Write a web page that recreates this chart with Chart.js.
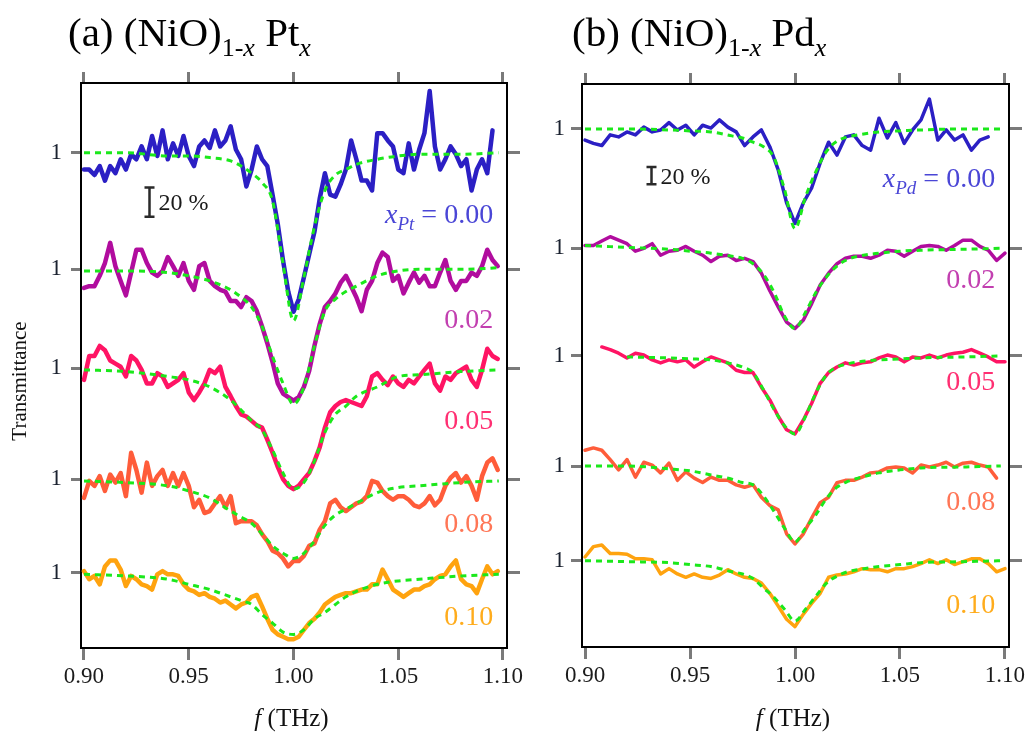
<!DOCTYPE html>
<html>
<head>
<meta charset="utf-8">
<script src="https://cdn.jsdelivr.net/npm/chart.js@4.4.1/dist/chart.umd.min.js"></script>
<style>
  html, body { margin: 0; padding: 0; background: #fff; }
  #wrap { position: relative; width: 1031px; height: 732px; overflow: hidden; }
  canvas { position: absolute; top: 0; }
  #cvA { left: 0; }
  #cvB { left: 530px; }
  .ttl { position: absolute; top: 12px; font: 41px 'Liberation Serif', serif; color: #000; white-space: nowrap; line-height: 1; }
  .ttl .sb { font-size: 26px; position: relative; top: 10px; }
</style>
</head>
<body>
<div id="wrap">
  <canvas id="cvA" width="530" height="732" role="img" aria-label="THz transmittance of (NiO)1-x Ptx for x = 0.00 to 0.10 with fits"></canvas>
  <canvas id="cvB" width="501" height="732" role="img" aria-label="THz transmittance of (NiO)1-x Pdx for x = 0.00 to 0.10 with fits"></canvas>
  <div class="ttl" style="left:68px">(a) (NiO)<span class="sb">1-<i>x</i></span> Pt<span class="sb"><i>x</i></span></div>
  <div class="ttl" style="left:572px">(b) (NiO)<span class="sb">1-<i>x</i></span> Pd<span class="sb"><i>x</i></span></div>
</div>
<script>
// frequency grids (THz)
const freqA = [0.9, 0.9025, 0.905, 0.9075, 0.91, 0.9125, 0.915, 0.9175, 0.92, 0.9225,
  0.925, 0.9275, 0.93, 0.9325, 0.935, 0.9375, 0.94, 0.9425, 0.945, 0.9475,
  0.95, 0.9525, 0.955, 0.9575, 0.96, 0.9625, 0.965, 0.9675, 0.97, 0.9725,
  0.975, 0.9775, 0.98, 0.9825, 0.985, 0.9875, 0.99, 0.9925, 0.995, 0.9975,
  1.0, 1.0025, 1.005, 1.0075, 1.01, 1.0125, 1.015, 1.0175, 1.02, 1.0225,
  1.025, 1.0275, 1.03, 1.0325, 1.035, 1.0375, 1.04, 1.0425, 1.045, 1.0475,
  1.05, 1.0525, 1.055, 1.0575, 1.06, 1.0625, 1.065, 1.0675, 1.07, 1.0725,
  1.075, 1.0775, 1.08, 1.0825, 1.085, 1.0875, 1.09, 1.0925, 1.095, 1.0975];
const freqB = [0.9, 0.904, 0.908, 0.912, 0.916, 0.92, 0.924, 0.928, 0.932, 0.936,
  0.94, 0.944, 0.948, 0.952, 0.956, 0.96, 0.964, 0.968, 0.972, 0.976,
  0.98, 0.984, 0.988, 0.992, 0.996, 1.0, 1.004, 1.008, 1.012, 1.016,
  1.02, 1.024, 1.028, 1.032, 1.036, 1.04, 1.044, 1.048, 1.052, 1.056,
  1.06, 1.064, 1.068, 1.072, 1.076, 1.08, 1.084, 1.088, 1.092, 1.096, 1.1];
const fitFreq = [0.9, 0.92, 0.94, 0.95, 0.96, 0.97, 0.975, 0.98, 0.985, 0.99, 0.995, 1.0,
  1.005, 1.01, 1.015, 1.02, 1.025, 1.03, 1.04, 1.05, 1.06, 1.08, 1.098];
const xTicks = [0.9, 0.95, 1.0, 1.05, 1.1];
const compositions = ['0.00', '0.02', '0.05', '0.08', '0.10'];

// (NiO)1-x Ptx transmittance
const pt000 = [0.90, 0.90, 0.87, 0.92, 0.84, 0.92, 0.88, 0.96, 0.90, 0.99,
  0.96, 1.04, 0.96, 1.11, 0.98, 1.15, 0.96, 1.06, 0.98, 1.11,
  0.98, 0.92, 1.04, 1.08, 1.03, 1.15, 1.04, 1.08, 1.18, 1.02,
  0.96, 0.81, 0.90, 1.04, 0.96, 0.92, 0.77, 0.64, 0.51, 0.42,
  0.37, 0.40, 0.46, 0.53, 0.61, 0.75, 0.88, 0.77, 0.76, 0.82,
  0.90, 1.08, 0.96, 0.84, 0.84, 0.79, 1.13, 1.13, 1.08, 1.04,
  0.90, 0.88, 1.06, 0.90, 1.02, 1.13, 1.47, 1.04, 0.90, 0.96,
  1.04, 0.99, 0.92, 0.96, 0.79, 0.90, 0.96, 0.88, 1.15, null];
const pt002 = [0.89, 0.90, 0.90, 0.96, 1.04, 1.18, 1.02, 0.93, 0.85, 0.98,
  1.13, 1.13, 1.04, 0.98, 0.96, 0.99, 1.08, 1.02, 0.96, 1.04,
  0.93, 0.88, 1.02, 1.04, 0.93, 0.90, 0.88, 0.87, 0.82, 0.82,
  0.79, 0.84, 0.82, 0.77, 0.70, 0.63, 0.56, 0.49, 0.46, 0.45,
  0.44, 0.45, 0.48, 0.53, 0.62, 0.71, 0.79, 0.82, 0.86, 0.92,
  0.96, 0.90, 0.84, 0.77, 0.88, 0.93, 1.04, 1.11, 1.08, 0.93,
  0.96, 0.86, 0.92, 0.98, 0.92, 0.96, 0.90, 0.90, 0.98, 1.06,
  0.93, 0.88, 0.93, 0.93, 0.98, 0.96, 1.02, 1.13, 1.06, 1.02];
const pt005 = [0.93, 1.08, 1.08, 1.15, 1.12, 1.05, 1.03, 1.01, 0.95, 1.08,
  1.05, 0.99, 0.91, 0.91, 0.97, 0.95, 0.89, 0.91, 0.93, 0.97,
  0.86, 0.82, 0.86, 0.91, 0.99, 0.97, 1.01, 0.89, 0.84, 0.79,
  0.75, 0.74, 0.72, 0.70, 0.69, 0.64, 0.59, 0.54, 0.50, 0.48,
  0.47, 0.48, 0.50, 0.52, 0.56, 0.61, 0.69, 0.76, 0.79, 0.81,
  0.82, 0.81, 0.80, 0.79, 0.84, 0.95, 0.97, 0.93, 0.90, 0.95,
  0.91, 0.89, 0.93, 0.91, 0.95, 0.99, 1.03, 0.91, 0.87, 0.95,
  0.93, 0.97, 0.99, 1.01, 0.93, 0.89, 0.99, 1.13, 1.08, 1.06];
const pt008 = [0.89, 0.99, 0.96, 1.02, 0.93, 1.03, 0.98, 1.04, 0.90, 1.18,
  1.06, 0.92, 1.11, 0.96, 1.02, 1.06, 0.96, 1.04, 0.96, 1.04,
  0.96, 0.84, 0.88, 0.81, 0.82, 0.86, 0.90, 0.84, 0.90, 0.76,
  0.77, 0.77, 0.77, 0.75, 0.71, 0.68, 0.64, 0.63, 0.61, 0.58,
  0.60, 0.60, 0.62, 0.66, 0.67, 0.73, 0.77, 0.86, 0.88, 0.84,
  0.82, 0.84, 0.86, 0.87, 0.90, 0.99, 0.98, 0.93, 0.90, 0.88,
  0.90, 0.90, 0.88, 0.85, 0.84, 0.86, 0.90, 0.85, 0.88, 0.96,
  1.01, 1.04, 0.98, 1.02, 0.96, 0.88, 1.02, 1.11, 1.14, 1.06];
const pt010 = [1.01, 0.96, 0.98, 0.93, 1.04, 1.08, 1.08, 1.02, 0.92, 0.98,
  0.96, 0.93, 0.92, 0.90, 0.99, 1.01, 0.99, 0.99, 0.98, 0.93,
  0.90, 0.89, 0.87, 0.88, 0.86, 0.85, 0.83, 0.84, 0.82, 0.80,
  0.82, 0.83, 0.86, 0.87, 0.81, 0.75, 0.70, 0.68, 0.67, 0.66,
  0.66, 0.67, 0.70, 0.73, 0.75, 0.78, 0.82, 0.84, 0.86, 0.87,
  0.88, 0.88, 0.89, 0.90, 0.90, 0.93, 0.93, 1.02, 0.96, 0.90,
  0.88, 0.86, 0.88, 0.90, 0.90, 0.92, 0.93, 0.96, 0.98, 0.99,
  1.04, 1.08, 0.96, 0.93, 0.92, 0.88, 0.96, 1.04, 0.99, 1.01];

// Pt fits
const ptFit000 = [1.00, 1.00, 0.98, 0.98, 0.97, 0.95, 0.92, 0.88, 0.83, 0.74, 0.50, 0.35, 0.46, 0.63, 0.79, 0.87, 0.90, 0.93, 0.96, 0.98, 0.99, 0.99, 1.00];
const ptFit002 = [0.99, 0.99, 0.98, 0.96, 0.93, 0.88, 0.84, 0.79, 0.70, 0.58, 0.49, 0.43, 0.48, 0.62, 0.77, 0.83, 0.87, 0.90, 0.96, 0.99, 1.00, 1.00, 1.01];
const ptFit005 = [0.99, 0.98, 0.95, 0.93, 0.89, 0.82, 0.77, 0.72, 0.68, 0.60, 0.52, 0.47, 0.49, 0.56, 0.67, 0.75, 0.79, 0.84, 0.89, 0.95, 0.96, 0.98, 0.99];
const ptFit008 = [0.99, 0.98, 0.96, 0.93, 0.89, 0.82, 0.79, 0.76, 0.71, 0.66, 0.63, 0.61, 0.63, 0.68, 0.75, 0.80, 0.83, 0.86, 0.92, 0.95, 0.96, 0.98, 0.99];
const ptFit010 = [0.99, 0.98, 0.96, 0.93, 0.90, 0.86, 0.84, 0.82, 0.77, 0.73, 0.69, 0.68, 0.70, 0.75, 0.78, 0.82, 0.86, 0.89, 0.93, 0.95, 0.96, 0.98, 0.99];

// (NiO)1-x Pdx transmittance
const pd000 = [0.89, 0.86, 0.84, 0.94, 0.92, 0.97, 0.94, 1.02, 0.97, 0.99,
  1.07, 0.99, 1.04, 0.94, 1.04, 1.01, 1.10, 1.02, 0.97, 0.84,
  0.92, 0.99, 0.83, 0.65, 0.46, 0.37, 0.46, 0.54, 0.70, 0.87,
  0.76, 0.92, 0.94, 0.84, 0.80, 1.12, 0.91, 1.07, 0.86, 0.99,
  1.10, 1.37, 0.89, 0.99, 0.89, 0.94, 0.80, 0.89, 0.92, null, null];
const pd002 = [1.03, 1.03, 1.08, 1.13, 1.09, 1.05, 0.97, 1.00, 1.05, 0.93,
  0.97, 0.98, 1.02, 0.97, 0.93, 0.87, 0.92, 0.93, 0.88, 0.90,
  0.87, 0.77, 0.64, 0.54, 0.46, 0.43, 0.47, 0.56, 0.68, 0.77,
  0.85, 0.90, 0.92, 0.92, 0.90, 0.93, 0.98, 0.97, 0.92, 0.97,
  1.02, 1.03, 1.02, 0.98, 1.03, 1.09, 1.09, 1.02, 0.98, 0.88, 0.95];
const pd005 = [null, null, 1.10, 1.07, 1.03, 0.98, 1.03, 1.01, 0.96, 0.93,
  0.96, 0.94, 0.96, 0.89, 0.94, 0.99, 0.96, 0.93, 0.86, 0.84,
  0.84, 0.72, 0.63, 0.53, 0.46, 0.44, 0.51, 0.61, 0.75, 0.84,
  0.89, 0.93, 0.91, 0.93, 0.94, 0.98, 1.01, 0.99, 0.94, 0.99,
  0.98, 1.01, 0.98, 1.01, 1.03, 1.04, 1.07, 1.03, 0.99, 0.94, 0.94];
const pd008 = [1.18, 1.21, 1.18, 1.07, 0.96, 1.07, 0.89, 1.04, 1.01, 0.93,
  1.03, 0.86, 0.94, 0.88, 0.84, 0.89, 0.86, 0.86, 0.82, 0.80,
  0.82, 0.72, 0.66, 0.63, 0.49, 0.44, 0.49, 0.58, 0.68, 0.72,
  0.84, 0.86, 0.86, 0.89, 0.93, 0.94, 0.98, 0.99, 0.98, 0.93,
  1.01, 0.99, 1.01, 1.04, 0.99, 1.03, 1.04, 1.01, 0.99, 0.88, null];
const pd010 = [1.04, 1.16, 1.18, 1.08, 1.08, 1.07, 1.02, 1.02, 1.01, 0.87,
  0.92, 0.87, 0.84, 0.87, 0.84, 0.83, 0.86, 0.91, 0.87, 0.84,
  0.83, 0.79, 0.71, 0.62, 0.54, 0.50, 0.57, 0.64, 0.71, 0.84,
  0.86, 0.87, 0.89, 0.92, 0.91, 0.91, 0.89, 0.92, 0.92, 0.94,
  0.97, 1.01, 0.97, 1.01, 0.96, 0.99, 1.02, 1.02, 0.97, 0.89, 0.92];

// Pd fits
const pdFit000 = [1.00, 1.00, 0.99, 0.98, 0.97, 0.93, 0.91, 0.87, 0.83, 0.74, 0.53, 0.35, 0.49, 0.64, 0.79, 0.88, 0.92, 0.94, 0.97, 0.98, 0.99, 1.00, 1.00];
const pdFit002 = [1.03, 1.01, 0.99, 0.97, 0.95, 0.92, 0.90, 0.85, 0.76, 0.63, 0.49, 0.43, 0.51, 0.63, 0.74, 0.83, 0.89, 0.92, 0.95, 0.97, 0.98, 0.99, 1.00];
const pdFit005 = [null, 0.99, 0.98, 0.97, 0.96, 0.92, 0.89, 0.84, 0.70, 0.57, 0.48, 0.44, 0.53, 0.68, 0.82, 0.89, 0.92, 0.94, 0.96, 0.97, 0.98, 0.99, 1.00];
const pdFit008 = [1.00, 1.00, 0.97, 0.95, 0.91, 0.87, 0.84, 0.82, 0.73, 0.62, 0.52, 0.45, 0.52, 0.60, 0.71, 0.80, 0.85, 0.88, 0.93, 0.96, 0.98, 0.99, 1.00];
const pdFit010 = [1.00, 0.99, 0.98, 0.96, 0.94, 0.89, 0.87, 0.83, 0.75, 0.68, 0.60, 0.53, 0.60, 0.69, 0.79, 0.85, 0.89, 0.91, 0.94, 0.96, 0.98, 0.99, 1.00];

const lineColors = ['#2b1fc4', '#b10c9e', '#ff1464', '#ff5c3a', '#ffa30f'];
const labelColors = ['#4a46d6', '#c23fb0', '#ff2f72', '#ff7656', '#ffac1c'];
const fitColor = '#1be81b';
const SERIF = "'Liberation Serif', 'Times New Roman', serif";

// each spectrum is multiplied by its own factor on the log axis,
// so its "1" tick sits at that factor
const panels = [
  {
    canvas: 'cvA', element: 'Pt', freq: freqA,
    spectra: [pt000, pt002, pt005, pt008, pt010],
    fits: [ptFit000, ptFit002, ptFit005, ptFit008, ptFit010],
    stack: [22.10, 10.664, 5.744, 2.870, 1.601], yMax: 34.17,
    xMin: 0.89857, xMax: 1.10191,
    lineWidth: 4.5,
    pad: { left: 0, right: 10, top: 72, bottom: 0 },
    leftW: 81, leftTick: 10, leftPad: 9, bottomH: 84,
    bar: { f: 0.9308, base: 14.81 },
    labelDy: [61, 49, 51, 43, 43],
    yTitle: true
  },
  {
    canvas: 'cvB', element: 'Pd', freq: freqB,
    spectra: [pd000, pd002, pd005, pd008, pd010],
    fits: [pdFit000, pdFit002, pdFit005, pdFit008, pdFit010],
    stack: [233.4, 66.47, 21.40, 6.721, 2.480], yMax: 374.8,
    xMin: 0.898571, xMax: 1.101905,
    lineWidth: 3.5,
    pad: { left: 0, right: 9, top: 73, bottom: 0 },
    leftW: 52, leftTick: 11, leftPad: 6, bottomH: 85,
    bar: { f: 0.9313, base: 130.4 },
    labelDy: [48.5, 30, 25, 34.5, 43],
    yTitle: false
  }
];

function toXY(freq, vals, factor) {
  return freq.map((f, i) => ({ x: f, y: vals[i] == null ? null : vals[i] * factor }));
}

function drawRich(ctx, parts, xRight, yBase) {
  let w = 0;
  parts.forEach(p => { ctx.font = p.font; w += ctx.measureText(p.t).width; });
  let cx = xRight - w;
  parts.forEach(p => {
    ctx.font = p.font;
    ctx.fillText(p.t, cx, yBase + (p.dy || 0));
    cx += ctx.measureText(p.t).width;
  });
}

// axis titles, 20 % scale bar and composition labels
const extras = {
  id: 'extras',
  afterDatasetsDraw(chart, args, o) {
    const { ctx, scales: { x, y } } = chart;
    ctx.save();
    ctx.textBaseline = 'alphabetic';
    ctx.textAlign = 'left';

    // scale bar: a factor 1.2 on the log axis
    const bx = Math.round(x.getPixelForValue(o.bar.f)) + 0.5;
    const b0 = y.getPixelForValue(o.bar.base);
    const b1 = y.getPixelForValue(o.bar.base * 1.2);
    ctx.strokeStyle = '#2a2a2a';
    ctx.lineWidth = 2.5;
    ctx.beginPath();
    ctx.moveTo(bx, b0); ctx.lineTo(bx, b1);
    ctx.moveTo(bx - 5, b0); ctx.lineTo(bx + 5, b0);
    ctx.moveTo(bx - 5, b1); ctx.lineTo(bx + 5, b1);
    ctx.stroke();
    ctx.fillStyle = '#1a1a1a';
    ctx.font = `24px ${SERIF}`;
    ctx.fillText('20 %', bx + 9, (b0 + b1) / 2 + 8);

    // composition labels, right-aligned near the end of each trace
    const xr = x.getPixelForValue(1.0953);
    o.stack.forEach((s, i) => {
      const yb = y.getPixelForValue(s) + o.labelDy[i] + 9.5;
      ctx.fillStyle = labelColors[i];
      const parts = i === 0
        ? [{ t: 'x', font: `italic 28px ${SERIF}` },
           { t: o.element, font: `italic 19px ${SERIF}`, dy: 7 },
           { t: ' = ' + compositions[i], font: `28px ${SERIF}` }]
        : [{ t: compositions[i], font: `28px ${SERIF}` }];
      drawRich(ctx, parts, xr, yb);
    });

    // x title: f (THz)
    ctx.fillStyle = '#111';
    const xc = x.getPixelForValue(1.0) - 2;
    const fParts = [{ t: 'f', font: `italic 25px ${SERIF}` }, { t: ' (THz)', font: `25px ${SERIF}` }];
    let w = 0;
    fParts.forEach(p => { ctx.font = p.font; w += ctx.measureText(p.t).width; });
    drawRich(ctx, fParts, xc + w / 2, 726);

    if (o.yTitle) {
      ctx.translate(20, 381);
      ctx.rotate(-Math.PI / 2);
      ctx.textAlign = 'center';
      ctx.textBaseline = 'middle';
      ctx.font = `21px ${SERIF}`;
      ctx.fillText('Transmittance', 0, 0);
    }
    ctx.restore();
  }
};

function xAxis(p, position, tickLen, labels) {
  return {
    type: 'linear', position, min: p.xMin, max: p.xMax,
    afterBuildTicks: s => { s.ticks = xTicks.map(v => ({ value: v })); },
    afterFit: s => { s.height = labels ? p.bottomH : 11; },
    ticks: {
      display: labels, autoSkip: false, maxRotation: 0, padding: 3,
      callback: v => Number(v).toFixed(2),
      color: '#1b1b1b', font: { family: SERIF, size: 23 }
    },
    grid: { display: true, drawOnChartArea: false, drawTicks: true, tickLength: tickLen, tickWidth: 3, tickColor: '#7a7a7a' },
    border: { display: true, color: '#000', width: 2 }
  };
}

function yAxis(p, position, labels) {
  return {
    type: 'logarithmic', position, min: 1, max: p.yMax,
    afterBuildTicks: s => { s.ticks = p.stack.map(v => ({ value: v })); },
    afterFit: s => { s.width = labels ? p.leftW : 13; },
    ticks: {
      display: labels, autoSkip: false, padding: p.leftPad,
      callback: () => '1',
      color: '#1b2230', font: { family: SERIF, size: 23 }
    },
    grid: { display: true, drawOnChartArea: false, drawTicks: true, tickLength: labels ? p.leftTick : 13, tickWidth: 3, tickColor: '#7a7a7a' },
    border: { display: true, color: '#000', width: 2 }
  };
}

panels.forEach(p => {
  const datasets = [];
  p.spectra.forEach((vals, i) => {
    datasets.push({
      data: toXY(p.freq, vals, p.stack[i]),
      borderColor: lineColors[i], borderWidth: p.lineWidth,
      borderJoinStyle: 'round', borderCapStyle: 'round',
      pointRadius: 0, tension: 0, order: 1
    });
    datasets.push({
      data: toXY(fitFreq, p.fits[i], p.stack[i]),
      borderColor: fitColor, borderWidth: 3, borderDash: [6, 5],
      pointRadius: 0, cubicInterpolationMode: 'monotone', order: 0
    });
  });

  new Chart(document.getElementById(p.canvas), {
    type: 'line',
    data: { datasets },
    options: {
      responsive: false, animation: false, devicePixelRatio: 1,
      layout: { padding: p.pad },
      scales: {
        x: xAxis(p, 'bottom', 12, true),
        x2: xAxis(p, 'top', 11, false),
        y: yAxis(p, 'left', true),
        y2: yAxis(p, 'right', false)
      },
      plugins: {
        legend: { display: false },
        tooltip: { enabled: false },
        extras: {
          element: p.element, stack: p.stack, bar: p.bar,
          labelDy: p.labelDy, yTitle: p.yTitle
        }
      }
    },
    plugins: [extras]
  });
});
</script>
</body>
</html>
